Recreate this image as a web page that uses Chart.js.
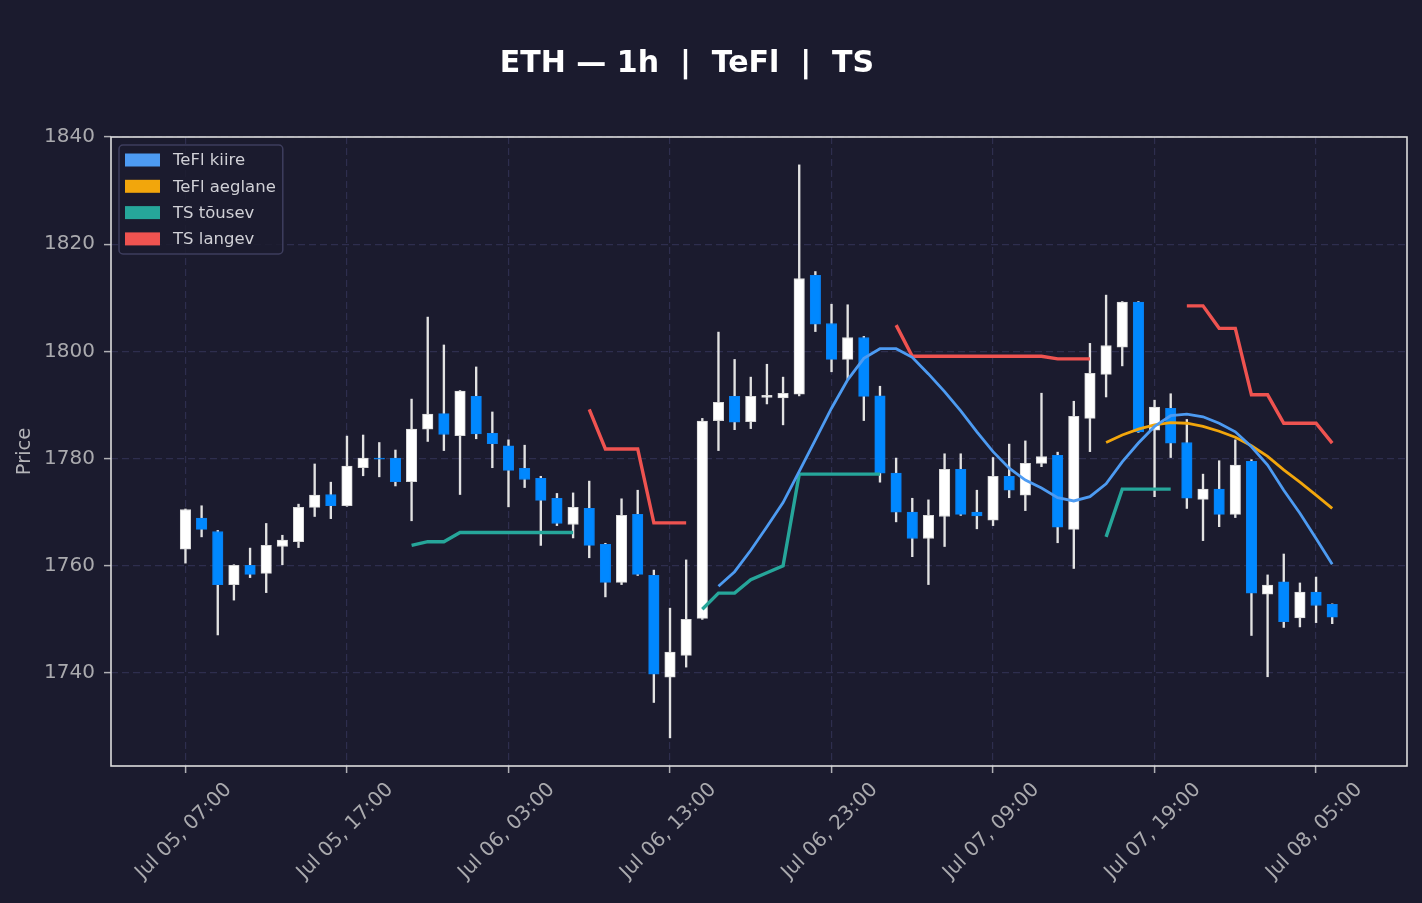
<!DOCTYPE html>
<html>
<head>
<meta charset="utf-8">
<title>ETH 1h TeFl TS</title>
<script src="https://cdn.jsdelivr.net/npm/chart.js@4.4.1/dist/chart.umd.min.js"></script>
<style>
  html, body { margin: 0; padding: 0; background: #1b1b2e; }
</style>
</head>
<body>
<canvas id="chart" width="1422" height="903"></canvas>
<script>
/* --------------- Data (hourly candles, index 0 = Jul 05 07:00) --------------- */
const N = null;
const tickLabels = ["Jul 05, 07:00", "Jul 05, 17:00", "Jul 06, 03:00", "Jul 06, 13:00",
                    "Jul 06, 23:00", "Jul 07, 09:00", "Jul 07, 19:00", "Jul 08, 05:00"];

const open = [1763.1, 1768.9, 1766.4, 1756.5, 1760.1, 1758.6, 1763.6, 1764.5, 1770.9, 1773.3,
    1771.2, 1778.3, 1780.1, 1780.1, 1775.7, 1785.5, 1788.4, 1784.3, 1791.6, 1784.7,
    1782.4, 1778.2, 1776.3, 1772.6, 1767.7, 1770.7, 1764.0, 1756.9, 1769.6, 1758.2,
    1739.2, 1743.3, 1750.2, 1787.1, 1791.6, 1786.9, 1791.4, 1791.3, 1792.0, 1814.2,
    1805.2, 1798.5, 1802.6, 1791.7, 1777.3, 1770.0, 1765.1, 1769.2, 1778.0, 1770.0,
    1768.5, 1776.7, 1773.2, 1779.1, 1780.6, 1766.8, 1787.5, 1795.7, 1800.8, 1809.2,
    1785.3, 1789.4, 1783.0, 1772.4, 1774.3, 1769.6, 1779.5, 1754.7, 1757.0, 1750.3,
    1755.1, 1752.8];
const high = [1770.6, 1771.2, 1766.6, 1760.2, 1763.3, 1767.9, 1765.7, 1771.5, 1779.0, 1775.6,
    1784.2, 1784.4, 1783.0, 1781.6, 1791.1, 1806.4, 1801.2, 1792.7, 1797.1, 1788.7,
    1783.5, 1782.5, 1776.7, 1773.5, 1773.6, 1775.8, 1764.2, 1772.5, 1774.1, 1759.2,
    1752.1, 1761.1, 1787.5, 1803.6, 1798.5, 1795.2, 1797.6, 1795.2, 1834.8, 1814.9,
    1808.8, 1808.7, 1802.8, 1793.5, 1780.1, 1772.6, 1772.3, 1780.9, 1780.9, 1774.1,
    1780.2, 1782.7, 1783.3, 1792.2, 1781.2, 1790.7, 1801.5, 1810.5, 1809.3, 1809.3,
    1790.9, 1792.1, 1787.3, 1777.1, 1779.6, 1783.5, 1779.8, 1758.3, 1762.2, 1756.8,
    1757.9, 1752.9];
const low = [1760.5, 1765.4, 1747.1, 1753.6, 1757.8, 1755.0, 1760.2, 1763.4, 1769.2, 1768.8,
    1771.1, 1776.8, 1776.6, 1774.9, 1768.4, 1783.2, 1781.5, 1773.3, 1783.7, 1778.3,
    1771.0, 1774.6, 1763.8, 1767.5, 1765.2, 1761.5, 1754.2, 1756.5, 1758.2, 1734.5,
    1727.9, 1741.1, 1750.0, 1781.5, 1785.4, 1785.6, 1790.2, 1786.3, 1791.7, 1803.7,
    1796.2, 1794.8, 1787.1, 1775.6, 1768.2, 1761.7, 1756.5, 1763.6, 1769.4, 1766.9,
    1767.5, 1772.7, 1770.3, 1778.5, 1764.3, 1759.5, 1781.3, 1791.5, 1797.3, 1784.9,
    1772.9, 1780.2, 1770.7, 1764.7, 1767.3, 1769.0, 1747.0, 1739.3, 1748.5, 1748.6,
    1749.4, 1749.2];
const close = [1770.5, 1766.8, 1756.5, 1760.1, 1758.4, 1763.8, 1764.8, 1770.9, 1773.2, 1771.2,
    1778.6, 1780.1, 1779.9, 1775.7, 1785.5, 1788.3, 1784.5, 1792.6, 1784.6, 1782.8,
    1777.8, 1776.1, 1772.2, 1767.9, 1770.9, 1763.8, 1756.9, 1769.4, 1758.4, 1739.8,
    1743.9, 1750.0, 1787.0, 1790.5, 1786.8, 1791.6, 1791.8, 1792.2, 1813.6, 1805.1,
    1798.5, 1802.6, 1791.6, 1777.3, 1770.0, 1765.1, 1769.4, 1778.0, 1769.6, 1769.3,
    1776.7, 1774.1, 1779.1, 1780.4, 1767.2, 1787.9, 1795.9, 1801.1, 1809.2, 1785.0,
    1789.6, 1782.9, 1772.6, 1774.3, 1769.6, 1778.8, 1754.9, 1756.4, 1749.6, 1755.1,
    1752.6, 1750.4];

const tefKiire = [N, N, N, N, N, N, N, N, N, N, N, N, N, N, N, N, N, N, N, N,
    N, N, N, N, N, N, N, N, N, N, N, N, N, 1756.2, 1758.9, 1762.9, 1767.3, 1771.8, 1777.6, 1783.5,
    1789.4, 1794.7, 1798.7, 1800.5, 1800.5, 1798.9, 1795.8, 1792.5, 1788.9, 1785.0,
    1781.3, 1778.2, 1776.0, 1774.5, 1772.7, 1772.1, 1772.9, 1775.3, 1779.4, 1782.9,
    1786.0, 1788.0, 1788.3, 1787.8, 1786.6, 1785.0, 1782.2, 1778.8, 1774.1, 1769.8,
    1765.1, 1760.3];
const tefAeglane = [N, N, N, N, N, N, N, N, N, N, N, N, N, N, N, N, N, N, N, N,
    N, N, N, N, N, N, N, N, N, N, N, N, N, N, N, N, N, N, N, N,
    N, N, N, N, N, N, N, N, N, N, N, N, N, N, N, N, N, 1783.0, 1784.4, 1785.5,
    1786.3, 1786.7, 1786.6, 1786.0, 1785.1, 1784.0, 1782.4, 1780.4, 1777.9, 1775.6,
    1773.2, 1770.7];
const tsUp = [N, N, N, N, N, N, N, N, N, N, N, N, N, N, 1763.8, 1764.5, 1764.5, 1766.2, 1766.2, 1766.2,
    1766.2, 1766.2, 1766.2, 1766.2, 1766.2, N, N, N, N, N,
    N, N, 1751.9, 1754.9, 1754.9, 1757.4, 1758.7, 1760.0, 1777.1, 1777.1,
    1777.1, 1777.1, 1777.1, 1777.1, N, N, N, N, N, N,
    N, N, N, N, N, N, N, 1765.4, 1774.3, 1774.3,
    1774.3, 1774.3, N, N, N, N, N, N, N, N, N, N];
const tsDown = [N, N, N, N, N, N, N, N, N, N, N, N, N, N, N, N, N, N, N, N,
    N, N, N, N, N, 1789.2, 1781.8, 1781.8, 1781.8, 1768.0,
    1768.0, 1768.0, N, N, N, N, N, N, N, N,
    N, N, N, N, 1804.9, 1799.1, 1799.1, 1799.1, 1799.1, 1799.1,
    1799.1, 1799.1, 1799.1, 1799.1, 1798.6, 1798.6, 1798.6, N, N, N,
    N, N, 1808.5, 1808.5, 1804.3, 1804.3, 1791.9, 1791.9, 1786.6, 1786.6,
    1786.6, 1782.9];

/* --------------- Colors --------------- */
const BG = "#1b1b2e";
const upColor = "#ffffff";
const downColor = "#0088ff";
const lineColors = { kiire: "#4d9bf2", aeglane: "#f2a60c", up: "#26a69a", down: "#ef5350" };

const isUp = open.map((o, i) => close[i] >= o);
const pts = (arr) => arr.map((v, i) => ({ x: i, y: v }));

/* --------------- Plugins --------------- */
const background = {
    id: "background",
    beforeDraw(chart) {
        const ctx = chart.ctx;
        ctx.save();
        ctx.fillStyle = BG;
        ctx.fillRect(0, 0, chart.width, chart.height);
        ctx.restore();
    },
};

const frameAndTitle = {
    id: "frameAndTitle",
    afterDraw(chart) {
        const ctx = chart.ctx;
        const a = chart.chartArea;
        ctx.save();
        ctx.strokeStyle = "#dcdcdc";
        ctx.lineWidth = 1.6;
        ctx.strokeRect(a.left, a.top, a.right - a.left, a.bottom - a.top);

        // title
        ctx.fillStyle = "#ffffff";
        ctx.font = "bold 30px 'DejaVu Sans'";
        ctx.textAlign = "center";
        ctx.textBaseline = "alphabetic";
        ctx.fillText("ETH \u2014 1h  |  TeFl  |  TS", 687, 72);
        ctx.restore();
    },
};

const legendBox = {
    id: "legendBox",
    afterDraw(chart) {
        const ctx = chart.ctx;
        const a = chart.chartArea;
        const items = chart.data.datasets.filter((d) => d.type === "line");
        ctx.save();
        ctx.font = "16.5px 'DejaVu Sans'";
        const textW = Math.max(...items.map((d) => ctx.measureText(d.label).width));
        const x0 = a.left + 8, y0 = a.top + 8;
        const w = 6 + 35 + 13 + textW + 7;
        const rowH = 26.3;
        const h = 15 * 2 + rowH * (items.length - 1);
        ctx.beginPath();
        ctx.roundRect(x0, y0, w, h, 4);
        ctx.fillStyle = "rgba(27,27,46,0.85)";
        ctx.fill();
        ctx.strokeStyle = "#3e3e5e";
        ctx.lineWidth = 1.5;
        ctx.stroke();
        ctx.textBaseline = "middle";
        ctx.textAlign = "left";
        items.forEach((d, i) => {
            const cy = y0 + 15 + i * rowH;
            ctx.fillStyle = d.borderColor;
            ctx.fillRect(x0 + 6, cy - 6.5, 35, 13);
            ctx.fillStyle = "#d0d0d6";
            ctx.fillText(d.label, x0 + 6 + 35 + 13, cy + 1);
        });
        ctx.restore();
    },
};

/* --------------- Chart --------------- */
Chart.defaults.font.family = "'DejaVu Sans', sans-serif";

const lineDs = (label, arr, color, width) => ({
    type: "line",
    label: label,
    data: pts(arr),
    borderColor: color,
    backgroundColor: color,
    borderWidth: width,
    pointRadius: 0,
    tension: 0,
    spanGaps: false,
    order: 0,
});

new Chart(document.getElementById("chart"), {
    type: "bar",
    plugins: [background, frameAndTitle, legendBox],
    data: {
        datasets: [
            lineDs("TeFl kiire", tefKiire, lineColors.kiire, 2.8),
            lineDs("TeFl aeglane", tefAeglane, lineColors.aeglane, 2.8),
            lineDs("TS t\u00f5usev", tsUp, lineColors.up, 3.4),
            lineDs("TS langev", tsDown, lineColors.down, 3.4),
            {
                type: "bar",
                label: "body",
                data: open.map((o, i) => ({ x: i, y: [o, close[i]] })),
                backgroundColor: isUp.map((u) => (u ? upColor : downColor)),
                borderColor: isUp.map((u) => (u ? "#d8d8d8" : "#0a80f0")),
                borderWidth: 1,
                borderSkipped: false,
                barThickness: 10.5,
                grouped: false,
                order: 1,
            },
            {
                type: "bar",
                label: "wick",
                data: low.map((l, i) => ({ x: i, y: [l, high[i]] })),
                backgroundColor: "#e2e2e2",
                borderWidth: 0,
                barThickness: 1.7,
                grouped: false,
                order: 2,
            },
        ],
    },
    options: {
        responsive: false,
        animation: false,
        events: [],
        layout: { padding: { top: 137, right: 15, bottom: 0, left: 0 } },
        plugins: {
            legend: { display: false },
            tooltip: { enabled: false },
            title: { display: false },
        },
        scales: {
            x: {
                type: "linear",
                offset: false,
                min: -4.61,
                max: 75.63,
                afterFit: (s) => { s.height = 137; },
                grid: {
                    offset: false,
                    color: "#2e2e4e",
                    lineWidth: 1.2,
                    tickColor: "#b0b0b4",
                    tickLength: 7,
                    tickWidth: 1.5,
                },
                border: { display: false, dash: [7, 4] },
                ticks: {
                    stepSize: 10,
                    includeBounds: false,
                    autoSkip: false,
                    minRotation: 45,
                    maxRotation: 45,
                    labelOffset: 43,
                    padding: 5,
                    color: "#aaaaae",
                    font: { size: 20 },
                    callback: (v) => tickLabels[Math.round(v / 10)],
                },
            },
            y: {
                min: 1722.65,
                max: 1840,
                afterFit: (s) => { s.width = 111; },
                grid: {
                    color: "#2e2e4e",
                    lineWidth: 1.2,
                    tickColor: "#b0b0b4",
                    tickLength: 7,
                    tickWidth: 1.5,
                },
                border: { display: false, dash: [7, 4] },
                ticks: {
                    stepSize: 20,
                    includeBounds: false,
                    padding: 9,
                    color: "#aaaaae",
                    font: { size: 20 },
                    callback: (v) => String(v),
                },
                title: {
                    display: true,
                    text: "Price",
                    color: "#b4b4b8",
                    font: { size: 19.5 },
                    padding: { top: 13, bottom: 0 },
                },
            },
        },
    },
});
</script>
</body>
</html>
